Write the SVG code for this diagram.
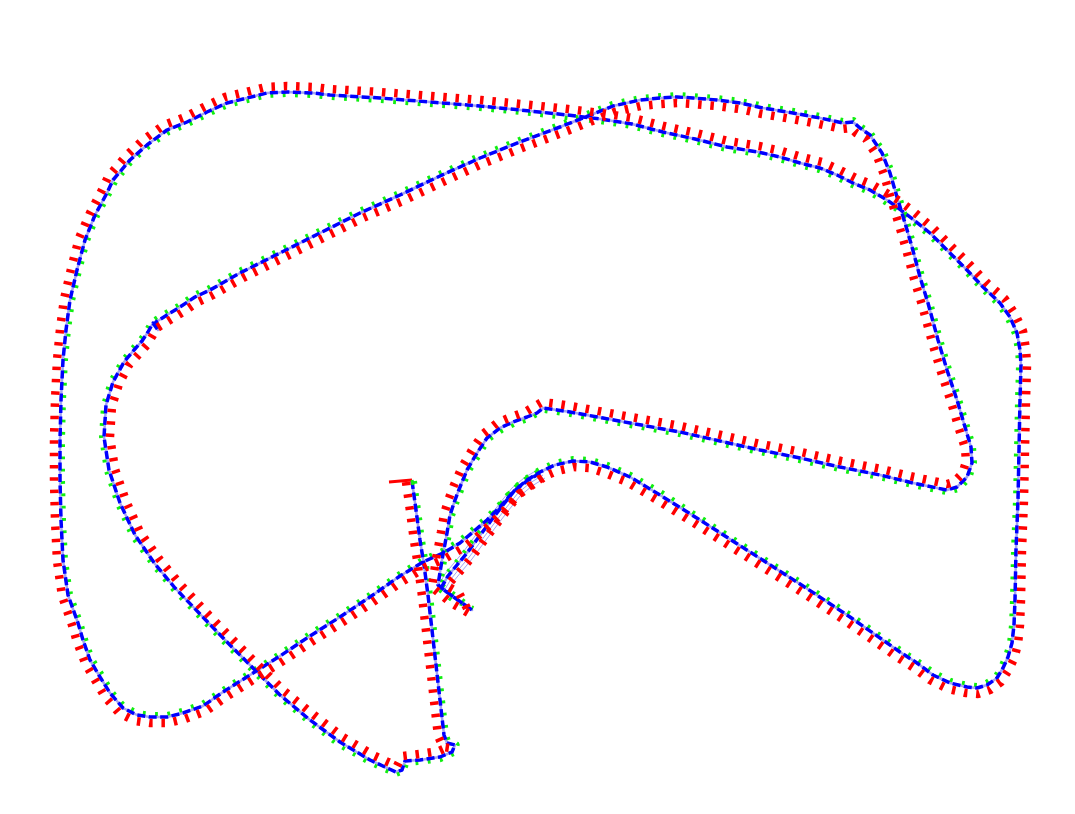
<svg xmlns="http://www.w3.org/2000/svg" xmlns:xlink="http://www.w3.org/1999/xlink" width="1075" height="814" viewBox="0 0 1075 814">
<style>
.gt{fill:none;stroke:#a4a4f2;stroke-width:2.5;stroke-linejoin:round}
.gtb{fill:none;stroke:#a4a4f2;stroke-width:1}
.est{fill:none;stroke:#0000ff;stroke-width:3.5;stroke-dasharray:8 3.5;stroke-linejoin:round}
.xax{fill:none;stroke:#ff0000;stroke-width:8.5;stroke-dasharray:3.5 8.8;stroke-linejoin:bevel}
.yax{fill:none;stroke:#11ee11;stroke-width:4;stroke-dasharray:2.8 9.5;stroke-linejoin:bevel}
</style>
<defs>
<path id="traj" d="M412,481 L416,510 420,540 424,565 428,595 432,630 436,665 440,700 444,735 447,743 455,745 452,752 440,757 420,760 405,761 402,770 396,772 385,767 370,760 340,742 310,720 280,695 255,670 228,643 200,614 175,588 155,564 135,535 120,503 109,470 104,437 106,405 113,382 124,362 134,350 142,341 148,332 153,323 158,330 156,322 167,315 180,307 195,297 210,290 240,273 280,253 320,233 360,213 400,195 440,176 480,158 520,142 560,127 593,114 613,106 640,100 660,98 677,97 693,98 717,100 740,103 763,108 793,113 820,118 843,123 853,122 860,128 870,135 882,153 890,173 897,197 905,223 912,247 920,277 928,303 938,340 947,370 957,400 965,427 971,447 972,463 967,477 957,487 947,490 937,488 913,483 880,475 840,467 800,458 760,450 720,441 680,432 630,423 603,418 570,412 557,410 543,408 537,413 527,417 513,422 500,428 487,438 477,453 467,470 460,487 455,500 450,515 447,533 442,560 438,585 455,598 472,610 455,598 441,588 448,576 457,565 467,553 478,538 490,522 503,505 515,490 527,480 540,472 555,465 573,461 590,462 607,467 630,477 660,495 700,520 750,552 800,584 850,617 900,652 917,663 933,675 950,683 967,687 977,688 987,685 997,678 1003,668 1008,657 1012,643 1014,625 1015,600 1016,550 1018,500 1019,450 1020,400 1021,365 1020,350 1017,333 1010,317 1000,303 983,287 967,270 947,250 930,233 910,217 897,207 887,200 870,190 853,183 837,175 820,168 800,163 780,157 758,152 727,147 695,139 663,132 632,124 600,119 567,115 530,111 480,106 430,102 380,98 330,95 313,93 287,92 267,93 247,98 227,103 207,112 187,122 167,130 147,145 130,160 113,180 107,193 95,215 85,240 77,270 70,300 66,330 63,360 61,400 60,440 60,480 61,520 63,560 68,595 78,623 83,640 90,660 100,677 110,693 123,708 137,715 150,717 167,717 183,713 203,706 223,692 250,675 280,656 310,636 340,617 370,597 400,576 423,562 443,553 460,543 473,532 487,520 500,507 513,492 527,481 540,473"/>
<path id="bundle" d="M441,588 L448,576 457,565 467,553 478,538 490,522 503,505 515,490 527,480 540,472"/>
</defs>
<rect width="1075" height="814" fill="#ffffff"/>
<g id="ground-truth">
<use xlink:href="#traj" href="#traj" class="gt"/>
<use xlink:href="#bundle" href="#bundle" class="gtb" transform="translate(3,3)"/>
<use xlink:href="#bundle" href="#bundle" class="gtb" transform="translate(-3,-2)"/>
<use xlink:href="#bundle" href="#bundle" class="gtb" transform="translate(5,6)"/>
</g>
<g id="y-axis-ticks">
<path class="yax" d="M415,481 L419,510 423,540 427,565 431,595 435,630 439,665 443,700 447,735 449,741 458,744 454,754 441,760 420,763 407,764 404,772 396,775 384,770 369,763 338,745 308,722 278,697 253,672 226,645 198,616 173,590 153,566 132,537 117,504 106,471 101,437 103,405 110,381 122,360 132,348 140,339 146,330 151,321 166,312 178,305 194,294 209,287 239,270 279,250 319,230 359,210 399,192 439,173 479,155 519,139 559,124 592,111 612,103 640,97 660,95 677,94 693,95 717,97 741,100 764,105 794,110 821,115 843,120 854,119 862,126 872,133 885,152 893,172 900,196 908,222 915,246 923,276 931,302 941,339 950,369 960,399 968,426 974,446 975,463 970,479 959,490 947,493 936,491 912,486 879,478 839,470 799,461 759,453 719,444 679,435 630,426 603,421 570,415 557,413 544,411 528,420 514,425 502,431 489,440 480,455 470,471 463,488 458,501 453,516 450,534 445,561 441,584 457,596 473,608 453,601 438,589 446,574 455,563 465,551 476,536 488,520 501,503 513,488 525,478 539,469 554,462 573,458 591,459 608,464 631,474 662,492 702,518 752,550 802,582 852,615 902,650 919,661 935,672 951,680 968,684 977,685 986,682 995,676 1000,667 1005,656 1009,643 1011,625 1012,600 1013,550 1015,500 1016,450 1017,400 1018,365 1017,350 1014,334 1007,319 998,305 981,289 965,272 945,252 928,235 908,219 895,209 885,203 869,193 852,186 836,178 819,171 799,166 779,160 757,155 726,150 694,142 662,135 631,127 600,122 567,118 530,114 480,109 430,105 380,101 330,98 313,96 287,95 267,96 248,101 228,106 208,115 188,125 169,133 149,147 132,162 116,182 110,194 98,216 88,241 80,271 73,301 69,330 66,360 64,400 63,440 63,480 64,520 66,560 71,594 81,622 86,639 93,659 103,675 112,691 125,706 138,712 150,714 167,714 182,710 202,703 221,690 248,673 278,654 308,634 338,615 368,595 398,574 422,559 442,550 458,541 471,530 485,518 498,505 511,490 525,479 538,471"/>
</g>
<g id="estimate">
<use xlink:href="#traj" href="#traj" class="est"/>
</g>
<g id="x-axis-ticks">
<path class="xax" d="M406,482 L410,511 414,541 418,566 422,596 426,631 430,666 434,701 438,736 443,747 450,748 448,747 439,751 419,754 402,756 397,766 388,762 373,755 343,737 314,715 284,691 259,666 232,639 204,610 180,584 160,560 140,532 126,501 115,469 110,437 112,406 119,384 129,365 139,354 147,345 153,335 157,328 170,320 183,312 198,302 213,295 243,278 283,258 323,238 363,218 403,201 443,182 482,164 522,148 562,133 595,120 615,112 641,106 661,104 677,103 693,104 716,106 739,109 762,114 792,119 819,124 842,129 851,128 856,133 866,139 877,156 884,175 891,199 899,225 906,249 914,279 922,305 932,342 941,372 951,402 959,429 965,448 966,462 962,474 954,482 947,484 938,482 914,477 881,469 841,461 801,452 761,444 721,435 681,426 631,417 604,412 571,406 558,404 542,402 525,412 511,417 497,423 483,434 472,450 462,467 454,485 449,498 444,514 441,532 436,559 432,587 451,603 470,614 459,593 447,586 453,579 462,569 472,557 483,542 495,526 508,509 519,494 531,485 543,477 557,471 574,467 589,468 605,473 627,482 657,500 697,525 747,557 797,589 847,622 897,657 914,668 930,680 948,689 966,693 978,694 990,690 1001,682 1008,671 1014,659 1018,644 1020,625 1021,600 1022,550 1024,500 1025,450 1026,400 1027,365 1026,349 1023,331 1015,314 1005,299 987,283 971,266 951,246 934,229 914,212 901,202 890,195 873,185 856,178 840,170 822,162 802,157 782,151 759,146 728,141 696,133 664,126 633,118 601,113 568,109 531,105 481,100 431,96 380,92 330,89 313,87 287,86 266,87 246,92 225,97 204,107 185,117 164,125 143,140 126,156 108,177 102,190 90,213 79,238 71,269 64,299 60,329 57,360 55,400 54,440 54,480 55,520 57,561 62,596 72,625 77,642 85,663 95,680 105,697 119,713 135,721 150,723 168,723 185,719 206,711 226,697 253,680 283,661 313,641 343,622 373,602 403,581 426,567 446,558 463,548 477,537 491,524 504,511 517,496 531,486 543,478"/>
</g>
<g id="start-pose">
<line x1="412" y1="480" x2="389" y2="482" stroke="#ff0000" stroke-width="3"/>
<line x1="412" y1="480" x2="413" y2="485" stroke="#11ee11" stroke-width="3"/>
</g>
</svg>
